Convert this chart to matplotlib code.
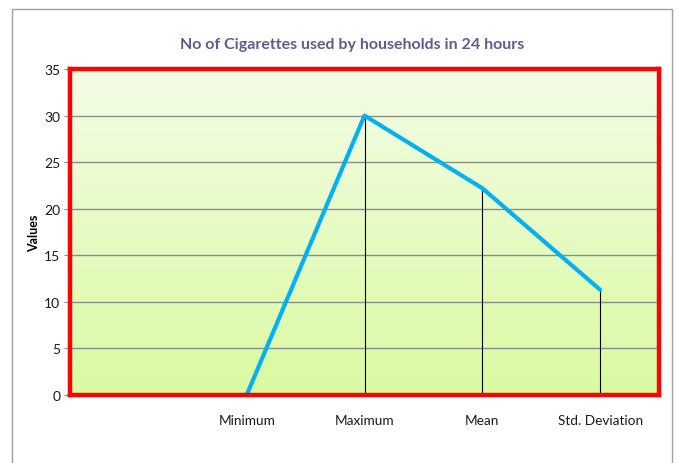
import matplotlib
matplotlib.use("Agg")
import matplotlib.pyplot as plt
import numpy as np
from matplotlib.patches import Rectangle

categories = ["", "Minimum", "Maximum", "Mean", "Std. Deviation"]
values = [None, 0, 30, 22.2, 11.3]
yticks = [0, 5, 10, 15, 20, 25, 30, 35]
title = "No of Cigarettes used by households in 24 hours"

plt.rcParams['font.family'] = ['Lato', 'DejaVu Sans']

fig = plt.figure(figsize=(6.78, 4.64), dpi=100)
W, H = 678, 464
# outer chart frame
fig.patches.append(Rectangle((12 / W, -0.05), (672 - 12) / W, (H - 10) / H + 0.05,
                             transform=fig.transFigure, fill=False,
                             edgecolor="#a0a0a0", linewidth=1.0))

ax = fig.add_axes([70 / W, 68 / H, (659 - 70) / W, (396 - 70) / H])
xs = np.arange(len(categories))
ax.set_xlim(-0.5, len(categories) - 0.5)
ax.set_ylim(0, 35)

# gradient background
grad = np.linspace(0, 1, 256).reshape(-1, 1)
c_bot = np.array([217, 250, 162]) / 255
c_top = np.array([243, 253, 230]) / 255
img = c_bot[None, None, :] * (1 - grad[:, :, None]) + c_top[None, None, :] * grad[:, :, None]
ax.imshow(img, extent=[-0.5, len(categories) - 0.5, 0, 35], origin="lower",
          aspect="auto", zorder=0)

for y in yticks[1:-1]:
    ax.axhline(y, color="#8c8c8c", linewidth=1.0, zorder=1)

px = [x for x, v in zip(xs, values) if v is not None]
py = [v for v in values if v is not None]
ax.vlines(px, 0, py, colors="black", linewidth=0.8, zorder=2)
ax.plot(px, py, color="#00b0f0", linewidth=3.0, solid_capstyle="round",
        solid_joinstyle="round", zorder=3)

ax.set_xticks(xs)
ax.set_xticklabels(categories, fontsize=9.8, color="#1a1a1a")
ax.set_yticks(yticks)
ax.set_yticklabels([str(t) for t in yticks], fontsize=10, color="#1a1a1a")
ax.tick_params(axis="x", length=0, pad=14)
ax.tick_params(axis="y", length=4, color="#8c8c8c", pad=3)

for s in ax.spines.values():
    s.set_color("#ff0000")
    s.set_linewidth(3.2)
    s.set_zorder(4)

ax.set_ylabel("Values", fontsize=9, fontweight="bold", labelpad=3)
fig.text(352 / W, 1 - 45 / H, title, ha="center", va="center",
         fontsize=11.5, fontweight="bold", color="#5a5f8e")

fig.savefig("out.png", dpi=100)
